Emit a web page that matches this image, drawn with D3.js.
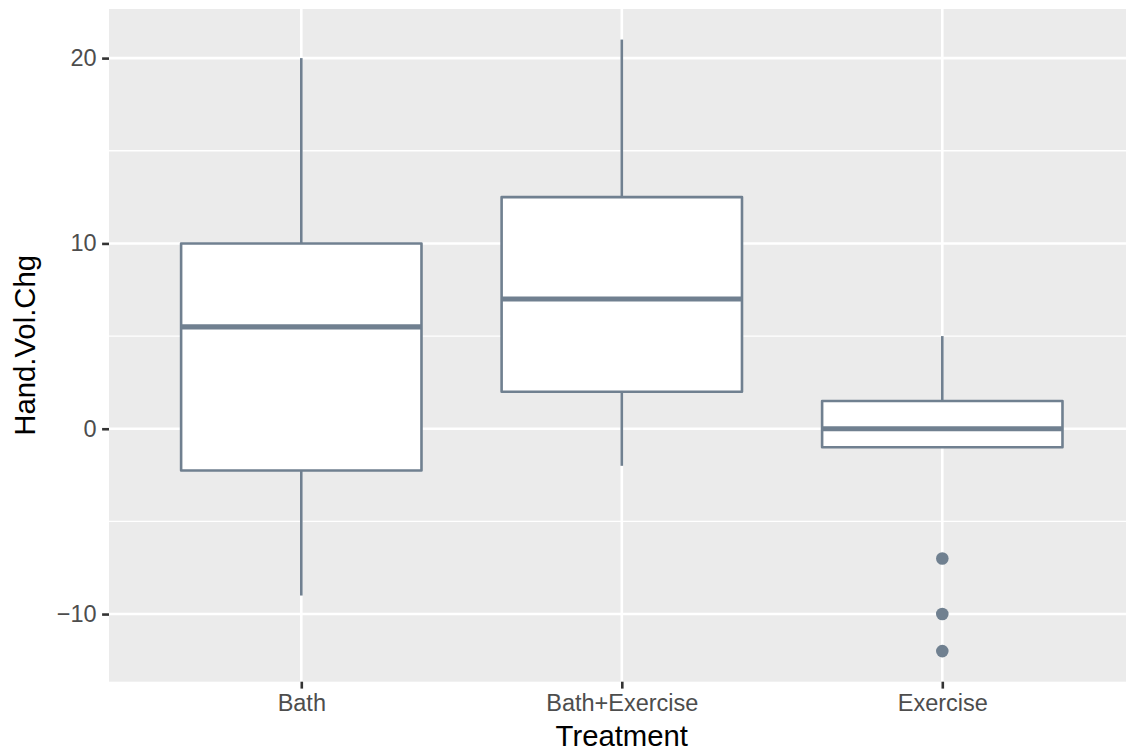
<!DOCTYPE html>
<html>
<head>
<meta charset="utf-8">
<script src="https://cdn.jsdelivr.net/npm/d3@7"></script>
<style>
  html, body { margin: 0; padding: 0; background: #fff; }
  svg { display: block; font-family: "Liberation Sans", Arial, sans-serif; }
</style>
</head>
<body>
<svg id="chart" width="1126" height="751"></svg>
<script>
// Box-plot summary per treatment group
const categories = ["Bath", "Bath+Exercise", "Exercise"];
const lowerWhisker = [-9, -2, -1];
const q1 = [-2.25, 2, -1];
const median = [5.5, 7, 0];
const q3 = [10, 12.5, 1.5];
const upperWhisker = [20, 21, 5];
const outliers = [[], [], [-7, -10, -12]];
const yTicks = [-10, 0, 10, 20];
const yMinor = [-5, 5, 15];

const W = 1126, H = 751;
const panel = { left: 109, top: 9, right: 1134.6, bottom: 681.7 };

const svg = d3.select("#chart");

const x = d3.scalePoint()
  .domain(categories)
  .range([panel.left, panel.right])
  .padding(0.6);

// 5% expansion of the data range on the value axis
const allVals = lowerWhisker.concat(upperWhisker, outliers.flat());
const lo = d3.min(allVals), hi = d3.max(allVals);
const pad = (hi - lo) * 0.05;
const y = d3.scaleLinear()
  .domain([lo - pad, hi + pad])
  .range([panel.bottom, panel.top]);

const boxColor = "#708090";
const lw = 2.6;
const tickFont = 23.5, titleFont = 29.3;

// panel background
svg.append("rect")
  .attr("x", panel.left).attr("y", panel.top)
  .attr("width", W - panel.left).attr("height", panel.bottom - panel.top)
  .attr("fill", "#EBEBEB");

const grid = svg.append("g");
grid.selectAll(".minor").data(yMinor).join("line")
  .attr("x1", panel.left).attr("x2", W)
  .attr("y1", d => y(d)).attr("y2", d => y(d))
  .attr("stroke", "#fff").attr("stroke-width", 1.3);
grid.selectAll(".majorY").data(yTicks).join("line")
  .attr("x1", panel.left).attr("x2", W)
  .attr("y1", d => y(d)).attr("y2", d => y(d))
  .attr("stroke", "#fff").attr("stroke-width", 2.6);
grid.selectAll(".majorX").data(categories).join("line")
  .attr("x1", d => x(d)).attr("x2", d => x(d))
  .attr("y1", panel.top).attr("y2", panel.bottom)
  .attr("stroke", "#fff").attr("stroke-width", 2.6);

// boxes
const boxW = x.step() * 0.75;
const groups = svg.append("g").selectAll("g")
  .data(categories.map((c, i) => ({
    c, lo: lowerWhisker[i], q1: q1[i], med: median[i], q3: q3[i], hi: upperWhisker[i], out: outliers[i]
  })))
  .join("g");

groups.append("line")
  .attr("x1", d => x(d.c)).attr("x2", d => x(d.c))
  .attr("y1", d => y(d.hi)).attr("y2", d => y(d.q3))
  .attr("stroke", boxColor).attr("stroke-width", lw);
groups.append("line")
  .attr("x1", d => x(d.c)).attr("x2", d => x(d.c))
  .attr("y1", d => y(d.q1)).attr("y2", d => y(d.lo))
  .attr("stroke", boxColor).attr("stroke-width", lw);
groups.append("rect")
  .attr("x", d => x(d.c) - boxW / 2)
  .attr("y", d => y(d.q3))
  .attr("width", boxW)
  .attr("height", d => y(d.q1) - y(d.q3))
  .attr("fill", "#fff")
  .attr("stroke", boxColor).attr("stroke-width", lw)
  .attr("stroke-linejoin", "round");
groups.append("line")
  .attr("x1", d => x(d.c) - boxW / 2).attr("x2", d => x(d.c) + boxW / 2)
  .attr("y1", d => y(d.med)).attr("y2", d => y(d.med))
  .attr("stroke", boxColor).attr("stroke-width", lw * 2);
groups.selectAll("circle")
  .data(d => d.out.map(v => ({ c: d.c, v })))
  .join("circle")
  .attr("cx", d => x(d.c)).attr("cy", d => y(d.v))
  .attr("r", 6.3).attr("fill", boxColor);

// axes
const yAxis = svg.append("g")
  .attr("transform", `translate(${panel.left},0)`)
  .call(d3.axisLeft(y).tickValues(yTicks).tickSize(6.9).tickPadding(5.5)
    .tickFormat(d => d < 0 ? "\u2212" + Math.abs(d) : d));
yAxis.select(".domain").remove();
yAxis.selectAll(".tick line").attr("stroke", "#333").attr("stroke-width", 2.6);
yAxis.selectAll(".tick text").attr("fill", "#4D4D4D").attr("font-size", tickFont)
  .attr("font-family", "Liberation Sans, Arial, sans-serif");

const xAxis = svg.append("g")
  .attr("transform", `translate(0,${panel.bottom})`)
  .call(d3.axisBottom(x).tickSize(6.9).tickPadding(5.5));
xAxis.select(".domain").remove();
xAxis.selectAll(".tick line").attr("stroke", "#333").attr("stroke-width", 2.6);
xAxis.selectAll(".tick text").attr("fill", "#4D4D4D").attr("font-size", tickFont)
  .attr("font-family", "Liberation Sans, Arial, sans-serif");

// axis titles
svg.append("text")
  .attr("x", (panel.left + panel.right) / 2).attr("y", 746)
  .attr("text-anchor", "middle")
  .attr("font-size", titleFont).attr("fill", "#000")
  .text("Treatment");
svg.append("text")
  .attr("transform", `translate(34.5,${(panel.top + panel.bottom) / 2}) rotate(-90)`)
  .attr("text-anchor", "middle")
  .attr("font-size", titleFont).attr("fill", "#000")
  .text("Hand.Vol.Chg");
</script>
</body>
</html>
